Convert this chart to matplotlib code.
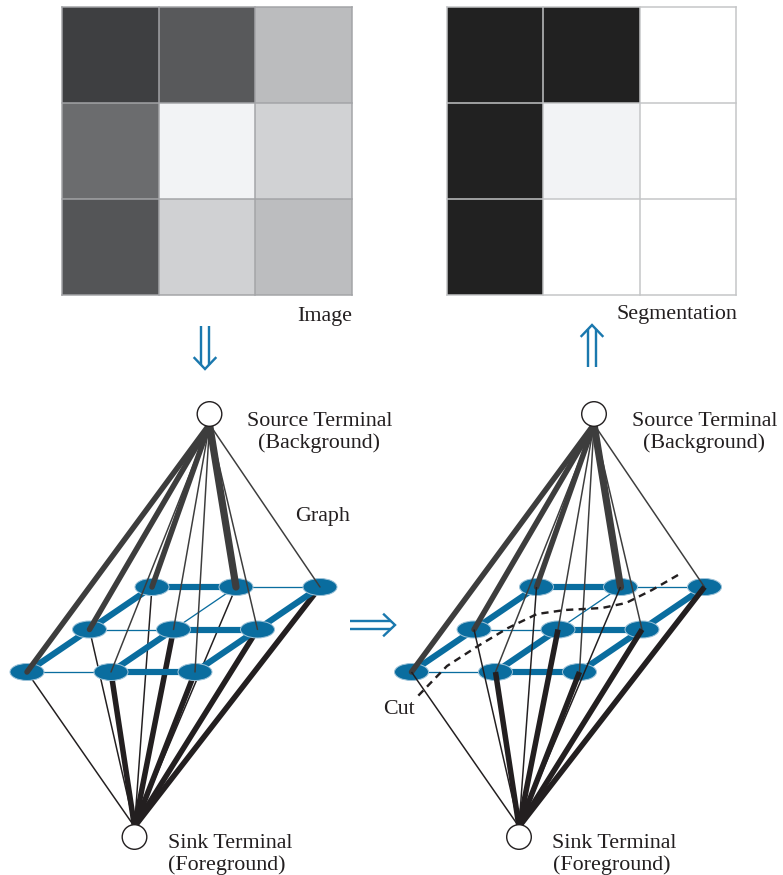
import numpy as np
import matplotlib
matplotlib.use("Agg")
import matplotlib.pyplot as plt
from matplotlib.patches import Ellipse, Circle

# ---------------- data ----------------
# grey levels of the 3x3 input image (0 = black, 255 = white), row 0 = top
image_gray = [[62, 88, 187],
              [107, 242, 209],
              [84, 208, 188]]
# grey levels of the resulting segmentation
seg_gray = [[33, 33, 255],
            [33, 242, 255],
            [33, 255, 255]]
# t-link weights (1 = weak, 3 = strong, 4 = very strong), indexed like the image
source_w = [[3, 4, 1],
            [3, 1, 1],
            [3, 1, 1]]
sink_w = [[1, 1, 3],
          [1, 3, 3],
          [1, 3, 3]]
# n-link weights: horizontal (r,c)-(r,c+1) and vertical (r,c)-(r+1,c)
horiz_w = [[3, 1],
           [1, 3],
           [1, 3]]
vert_w = [[3, 1, 3],
          [3, 3, 3]]

labels_top = ["Image", "Segmentation"]
src_label = ["Source Terminal", "(Background)"]
sink_label = ["Sink Terminal", "(Foreground)"]

# ---------------- style / layout ----------------
W, H = 783, 875
DPI = 100
PT = 72.0 / DPI  # points per pixel
TXT = "#231f20"
BLUE = "#0a6d9f"
BLUE_E = "#9cc2d8"
ARROW = "#1a78ae"
SRC_C = "#3d3d3d"
SINK_C = "#231f20"
FONT = "Liberation Serif"
FS = 22 * PT
DY = 3  # text vertical nudge
TINT = np.array([0.0, 1.0, 3.0])  # slight cool tint of the printed greys

fig = plt.figure(figsize=(W / DPI, H / DPI), dpi=DPI)
ax = fig.add_axes([0, 0, 1, 1])
ax.set_xlim(0, W)
ax.set_ylim(H, 0)
ax.axis("off")

# ---------------- top grids ----------------
def draw_grid(vals, x0, x1, y0, y1, line_c, tint=True):
    arr = np.array(vals, dtype=float)
    rgb = arr[..., None] + (TINT * (arr[..., None] > 60) if tint else 0)
    rgb = np.clip(rgb / 255.0, 0, 1)
    ax.imshow(rgb, extent=(x0, x1, y1, y0),
              interpolation="nearest", aspect="auto", zorder=1)
    n = arr.shape[0]
    for i in range(n + 1):
        xx = x0 + (x1 - x0) * i / n
        yy = y0 + (y1 - y0) * i / n
        ax.plot([xx, xx], [y0, y1], color=line_c, lw=1.5 * PT, zorder=2)
        ax.plot([x0, x1], [yy, yy], color=line_c, lw=1.5 * PT, zorder=2)

draw_grid(image_gray, 62, 352, 7, 295, "#a3a4a7")
draw_grid(seg_gray, 447, 736, 7, 295, "#c4c5c7")

ax.text(352, 313 + DY, labels_top[0], ha="right", va="center", fontsize=FS,
        family=FONT, color=TXT)
ax.text(737, 311 + DY, labels_top[1], ha="right", va="center", fontsize=FS,
        family=FONT, color=TXT)

# ---------------- arrows ----------------
def double_arrow(tip, direction, length, gap=8.5, head_w=10.5, head_l=11):
    tx, ty = tip
    dx, dy = direction
    px, py = -dy, dx
    lw = 2.4 * PT
    for s in (-gap / 2, gap / 2):
        ax.plot([tx - dx * length + px * s, tx - dx * 4 + px * s],
                [ty - dy * length + py * s, ty - dy * 4 + py * s],
                color=ARROW, lw=lw, solid_capstyle="butt", zorder=3)
    ax.plot([tx - dx * head_l + px * head_w, tx, tx - dx * head_l - px * head_w],
            [ty - dy * head_l + py * head_w, ty, ty - dy * head_l - py * head_w],
            color=ARROW, lw=lw, solid_joinstyle="miter", zorder=3)

double_arrow((205, 369), (0, 1), 43)
double_arrow((592, 325), (0, -1), 42)
double_arrow((395, 625), (1, 0), 45)

# ---------------- graphs ----------------
ORIGIN = np.array([27.0, 672.0])    # front-left node (left graph)
COL = np.array([84.0, 0.0])
DEPTH = np.array([62.5, -42.5])
SRC = np.array([209.5, 414.0])
SINK = np.array([134.5, 837.0])
R_TERM = 12.3
SHIFT = 384.5

def lw_tlink(w):
    return {1: 1.5, 3: 5.5, 4: 7.2}[w] * PT

def lw_nlink(w):
    return {1: 1.3, 3: 6.2}[w] * PT

def node_pos(r, c, dx):
    p = ORIGIN + c * COL + (2 - r) * DEPTH
    return p[0] + dx, p[1]

def draw_graph(dx, sink_on_top):
    src = SRC + [dx, 0]
    snk = SINK + [dx, 0]
    # n-links
    for r in range(3):
        for c in range(2):
            a, b = node_pos(r, c, dx), node_pos(r, c + 1, dx)
            ax.plot([a[0], b[0]], [a[1], b[1]], color=BLUE,
                    lw=lw_nlink(horiz_w[r][c]), solid_capstyle="butt", zorder=2)
    for r in range(2):
        for c in range(3):
            a, b = node_pos(r, c, dx), node_pos(r + 1, c, dx)
            ax.plot([a[0], b[0]], [a[1], b[1]], color=BLUE,
                    lw=lw_nlink(vert_w[r][c]), solid_capstyle="butt", zorder=2)
    # nodes
    for r in range(3):
        for c in range(3):
            x, y = node_pos(r, c, dx)
            ax.add_patch(Ellipse((x, y), 34, 17, fc=BLUE, ec=BLUE_E,
                                 lw=1.0 * PT, zorder=2.5))
    # t-links
    for r in range(3):
        for c in range(3):
            x, y = node_pos(r, c, dx)
            ax.plot([src[0], x], [src[1] + R_TERM - 2, y], color=SRC_C,
                    lw=lw_tlink(source_w[r][c]), solid_capstyle="round", zorder=3)
            ax.plot([snk[0], x], [snk[1] - R_TERM + 2, y], color=SINK_C,
                    lw=lw_tlink(sink_w[r][c]), solid_capstyle="butt",
                    zorder=3.2 if sink_on_top else 1.5)
    # terminals
    for p in (src, snk):
        ax.add_patch(Circle(p, R_TERM, fc="white", ec=TXT, lw=1.4 * PT, zorder=5))
    # labels
    ax.text(320 + dx, 418 + DY, src_label[0], ha="center", va="center", fontsize=FS,
            family=FONT, color=TXT)
    ax.text(319 + dx, 440 + DY, src_label[1], ha="center", va="center", fontsize=FS,
            family=FONT, color=TXT)
    ax.text(168 + dx, 840 + DY, sink_label[0], ha="left", va="center", fontsize=FS,
            family=FONT, color=TXT)
    ax.text(168 + dx, 862 + DY, sink_label[1], ha="left", va="center", fontsize=FS,
            family=FONT, color=TXT)

draw_graph(0, False)
draw_graph(SHIFT, True)

ax.text(295, 513 + DY, "Graph", ha="left", va="center", fontsize=FS, family=FONT, color=TXT)

# cut curve (right graph)
cut_x = [678, 652, 626, 602, 565, 537, 508, 478, 447, 417]
cut_y = [575, 590, 603, 608, 610, 614, 628, 646, 666, 697]
ax.plot(cut_x, cut_y, color=TXT, lw=2.4 * PT, ls=(0, (3.0, 2.2)), zorder=4)
ax.text(383, 707 + DY, "Cut", ha="left", va="center", fontsize=FS, family=FONT, color=TXT)

fig.savefig("out.png", dpi=DPI)
